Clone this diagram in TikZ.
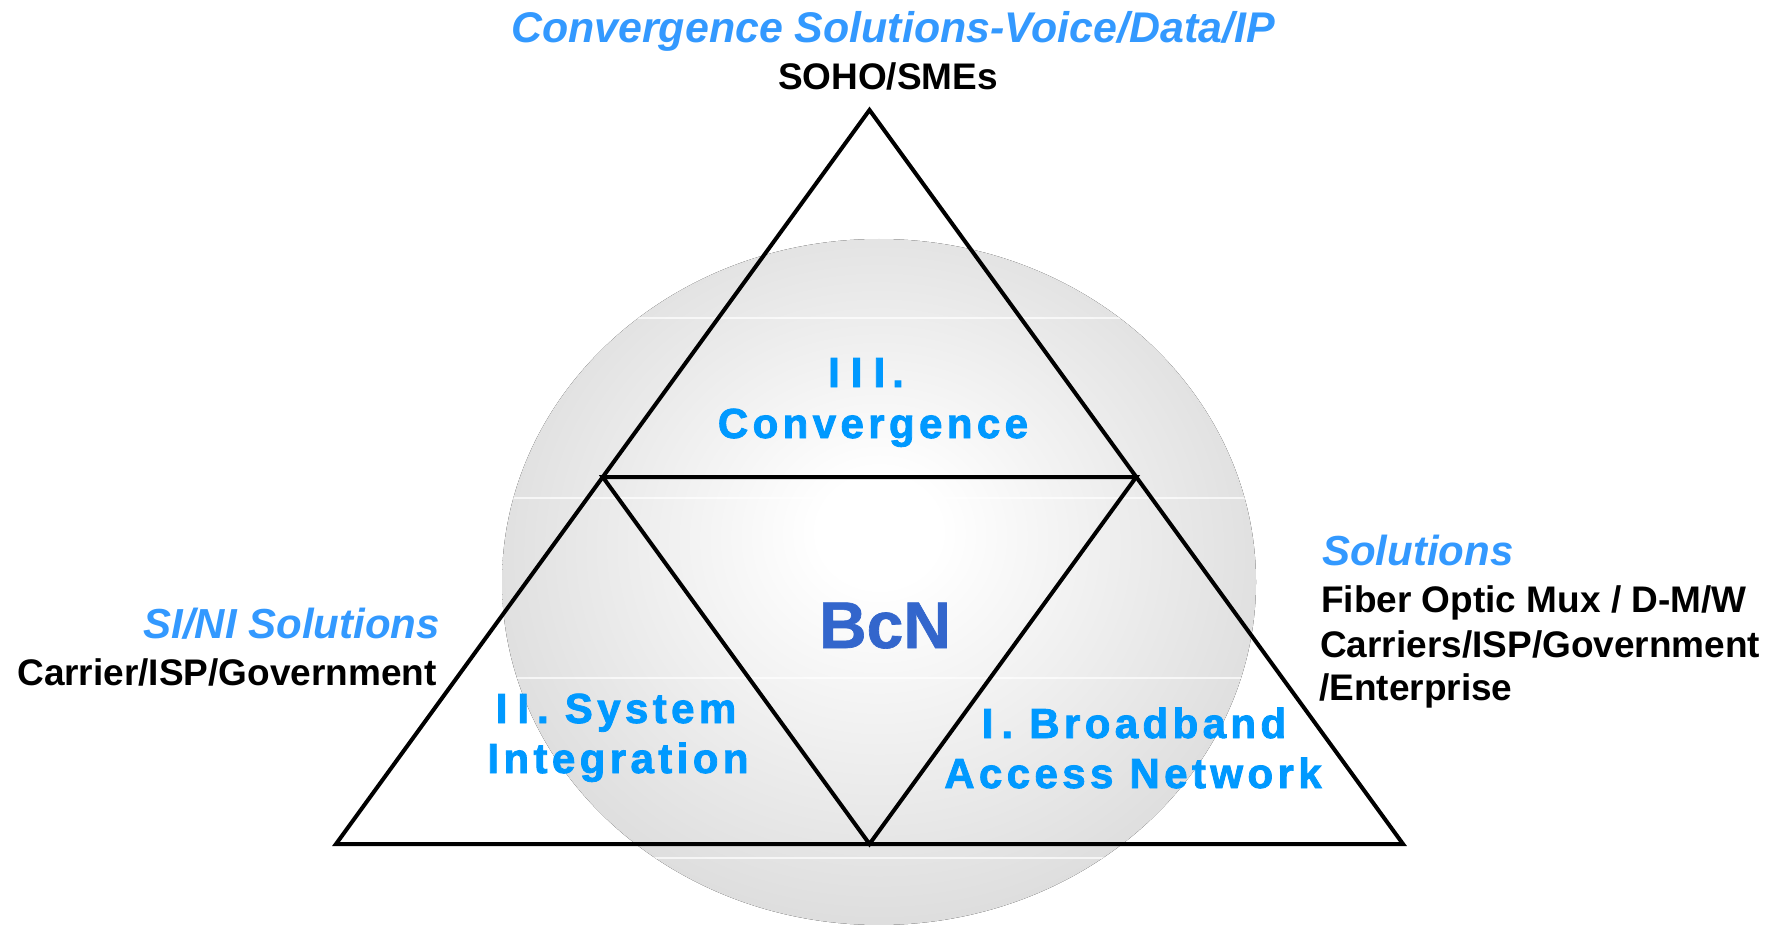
\documentclass[tikz,border=0pt]{standalone}
\usepackage{fontspec}
\setmainfont{Liberation Sans}
\newfontfamily\lsfont{Liberation Sans}[LetterSpace=10.5, FakeBold=2]
\newfontfamily\heavyfont{Liberation Sans}[FakeBold=1]
\definecolor{headblue}{HTML}{3399FF}
\definecolor{labblue}{HTML}{0099FF}
\definecolor{bcnblue}{HTML}{3366CC}
\definecolor{ellgray}{RGB}{220,220,220}
\pgfdeclareradialshading{ellshade}{\pgfpoint{0bp}{4bp}}{color(0bp)=(white); color(4bp)=(white); color(28bp)=(ellgray); color(50bp)=(ellgray)}
\tikzset{
  head/.style={font=\fontsize{42}{50}\selectfont\bfseries\itshape, text=headblue, inner sep=0pt},
  sub/.style={font=\fontsize{37}{44}\selectfont\bfseries, text=black, inner sep=0pt},
  lab/.style={font=\lsfont\bfseries\fontsize{42}{50}\selectfont, text=labblue, inner sep=0pt},
  bcn/.style={font=\heavyfont\bfseries\fontsize{66}{72}\selectfont, text=bcnblue, inner sep=0pt},
  edge/.style={line width=4pt, line join=miter, draw=black},
  band/.style={draw=white, opacity=0.7, line width=1.5pt}
}
\begin{document}
\begin{tikzpicture}[x=1pt,y=-1pt]
\useasboundingbox (0,0) rectangle (1780,925);
% background sphere
\fill[shading=ellshade] (879,582) ellipse [x radius=377, y radius=343];
\begin{scope}
  \clip (879,582) ellipse [x radius=377, y radius=343];
  \foreach \yy in {318,498,678,858} {\draw[band] (480,\yy) -- (1280,\yy);}
\end{scope}
% triangle vertices
\coordinate (A) at (869.5,110);
\coordinate (L) at (336,844);
\coordinate (R) at (1403,844);
\coordinate (ML) at (602.75,477);
\coordinate (MR) at (1136.25,477);
\coordinate (MB) at (869.5,844);
\draw[edge] (A) -- (L) -- (R) -- cycle;
\draw[edge] (ML) -- (MR) -- (MB) -- cycle;
% outer texts
\node[head, anchor=base, font=\fontsize{42.9}{50}\selectfont\bfseries\itshape] (t1) at (893,43) {Convergence Solutions-Voice/Data/IP};
\node[sub, anchor=base] (t2) at (888,90) {SOHO/SMEs};
\node[head, anchor=base east] (l1) at (440,638) {SI/NI Solutions};
\node[sub, anchor=base east] (l2) at (437,685) {Carrier/ISP/Government};
\node[head, anchor=base west] (r1) at (1322,565) {Solutions};
\node[sub, anchor=base west] (r2) at (1321,612) {Fiber Optic Mux / D-M/W};
\node[sub, anchor=base west] (r3) at (1320,657) {Carriers/ISP/Government};
\node[sub, anchor=base west] (r4) at (1319,700) {/Enterprise};
% inner texts
\node[lab, anchor=base] (c1) at (866,387) {I\kern11pt I\kern11pt I\kern7pt.};
\node[lab, anchor=base] (c2) at (873,438) {Convergence};
\node[lab, anchor=base] (s1) at (616,723) {I\kern10pt I\kern8pt. System};
\node[lab, anchor=base] (s2) at (618,773) {Integration};
\node[lab, anchor=base] (b1) at (1134,738) {I\kern8pt. Broadband};
\node[lab, anchor=base] (b2) at (1133,788) {Access Network};
\node[bcn, anchor=base] (bc) at (885,648) {BcN};
\end{tikzpicture}
\end{document}
